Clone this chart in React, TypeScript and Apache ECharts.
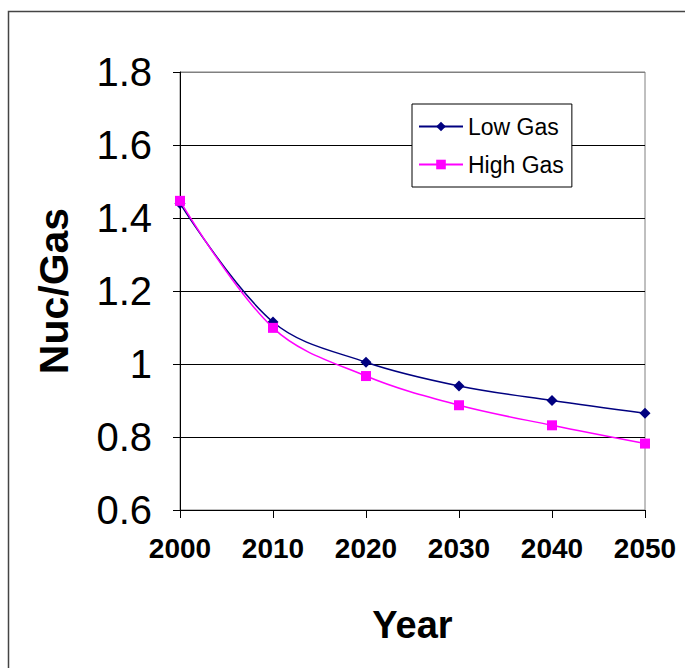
import React, { useEffect, useRef } from "react";
import * as echarts from "echarts";

const years = ["2000", "2010", "2020", "2030", "2040", "2050"];
const lowGas = [1.44, 1.115, 1.005, 0.94, 0.9, 0.865];
const highGas = [1.447, 1.099, 0.967, 0.887, 0.832, 0.782];
const yTickLabels = ["0.6", "0.8", "1", "1.2", "1.4", "1.6", "1.8"];
const seriesNames = ["Low Gas", "High Gas"];

export default function App() {
  const ref = useRef<HTMLDivElement>(null);
  useEffect(() => {
    if (!ref.current) return;
    const chart = echarts.init(ref.current, null, { renderer: "svg" });
    const font = "'Liberation Sans', Arial, sans-serif";
    chart.setOption({
      animation: false,
      backgroundColor: "#ffffff",
      textStyle: { fontFamily: font },
      graphic: [
        {
          type: "rect",
          shape: { x: 8.5, y: 11.5, width: 720, height: 720 },
          style: { fill: "none", stroke: "#444", lineWidth: 1.5 },
          z: 0,
        },
      ],
      grid: {
        left: 180,
        top: 72,
        right: 40,
        bottom: 158,
        show: true,
        borderColor: "#808080",
        borderWidth: 1,
        backgroundColor: "transparent",
      },
      legend: {
        data: seriesNames,
        orient: "vertical",
        left: 412,
        top: 104,
        backgroundColor: "#ffffff",
        borderColor: "#000",
        borderWidth: 1,
        padding: [11, 8, 11, 6],
        itemWidth: 44,
        itemHeight: 12,
        itemGap: 15,
        textStyle: { fontSize: 23, color: "#000", fontFamily: font },
      },
      xAxis: {
        type: "category",
        data: years,
        boundaryGap: false,
        name: "Year",
        nameLocation: "middle",
        nameGap: 96,
        nameTextStyle: { fontSize: 38, fontWeight: "bold", color: "#000", fontFamily: font, verticalAlign: "top" },
        axisLine: { lineStyle: { color: "#000", width: 1 } },
        axisTick: { show: true, alignWithLabel: true, length: 8, lineStyle: { color: "#000" } },
        axisLabel: { fontSize: 28, fontWeight: "bold", color: "#000", margin: 24, fontFamily: font },
        splitLine: { show: false },
      },
      yAxis: {
        type: "value",
        min: 0.6,
        max: 1.8,
        interval: 0.2,
        name: "Nuc/Gas",
        nameLocation: "middle",
        nameGap: 106,
        nameTextStyle: { fontSize: 41, fontWeight: "bold", color: "#000", fontFamily: font },
        axisLine: { show: true, lineStyle: { color: "#000", width: 1 } },
        axisTick: { show: true, length: 7, lineStyle: { color: "#000" } },
        axisLabel: {
          fontSize: 40,
          color: "#000",
          margin: 28,
          fontFamily: font,
          formatter: (v: number) => {
            const i = Math.round((v - 0.6) / 0.2);
            return yTickLabels[i] ?? String(v);
          },
        },
        splitLine: {
          show: true,
          lineStyle: { color: ["#000", "#000", "#000", "#000", "#000", "#000", "#808080"], width: 1 },
        },
      },
      series: [
        {
          name: seriesNames[0],
          type: "line",
          data: lowGas,
          smooth: 0.35,
          symbol: "diamond",
          symbolSize: 11,
          itemStyle: { color: "#000080" },
          lineStyle: { color: "#000080", width: 1.5 },
          z: 3,
        },
        {
          name: seriesNames[1],
          type: "line",
          data: highGas,
          smooth: 0.35,
          symbol: "rect",
          symbolSize: 10,
          itemStyle: { color: "#FF00FF" },
          lineStyle: { color: "#FF00FF", width: 1.5 },
          z: 4,
        },
      ],
    });
    return () => chart.dispose();
  }, []);
  return (
    <div
      ref={ref}
      style={{ position: "fixed", left: 0, top: 0, width: 685, height: 668 }}
    />
  );
}
